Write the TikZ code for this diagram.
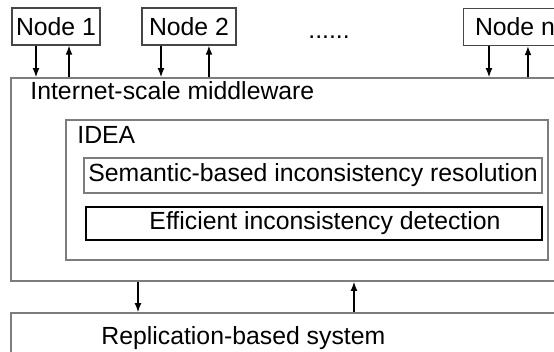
\documentclass[tikz,border=0pt]{standalone}
\usepackage{fontspec}
\setmainfont{Liberation Sans}
\usetikzlibrary{arrows.meta}
\definecolor{boxgray}{RGB}{125,125,125}
\definecolor{hostgray}{RGB}{70,70,70}
\tikzset{
  hostbox/.style={draw=hostgray, line width=0.6pt, minimum height=18.5pt, inner sep=0pt},
  layerbox/.style={draw=boxgray, line width=0.8pt, inner sep=0pt},
  flow/.style={-{Latex[length=4.5pt,width=3.4pt]}, line width=0.7pt},
  caption/.style={inner sep=0pt, anchor=base west},
}

\begin{document}
\begin{tikzpicture}[x=0.5pt, y=-0.5pt, font=\fontsize{12.4}{14}\selectfont]
  \useasboundingbox (0,0) rectangle (554,352);
  \clip (0,0) rectangle (554,352);
  % hosts
  \node[hostbox, minimum width=44pt] (n1) at (56,26.5) {Node 1};
  \node[hostbox, minimum width=47pt] (n2) at (189,26.5) {Node 2};
  \node[hostbox, minimum width=51.5pt] (nn) at (515,27) {Node n};
  \node[caption] (dots) at (308,39) {......};
  % layers
  \node[layerbox, minimum width=282pt, minimum height=101.5pt] (mw) at (293,179.5) {};
  \node[caption] (mwlabel) at (30,100) {Internet-scale middleware};
  \node[layerbox, minimum width=241pt, minimum height=70pt] (idea) at (307,190) {};
  \node[caption] (idealabel) at (77,144) {IDEA};
  \node[layerbox, minimum width=229pt, minimum height=17.5pt] (sem) at (313,175.5) {Semantic-based inconsistency resolution};
  \node[layerbox, draw=black, line width=0.55pt, minimum width=228pt, minimum height=16.5pt] (eff) at (314,223.5) {\hspace*{11pt}Efficient inconsistency detection};
  \node[layerbox, minimum width=282pt, minimum height=43.5pt] (rep) at (293,356.5) {};
  \node[caption] (replabel) at (101,345) {Replication-based system};
  % arrows
  \path ([xshift=-10pt]n1.south) coordinate (d1)
        ([xshift=6.5pt]n1.south) coordinate (u1)
        ([xshift=-14pt]n2.south) coordinate (d2)
        ([xshift=10pt]n2.south) coordinate (u2)
        ([xshift=-13pt]nn.south) coordinate (dn)
        ([xshift=6.5pt]nn.south) coordinate (un)
        ([xshift=-77.5pt]mw.south) coordinate (dm)
        ([xshift=30.5pt]mw.south) coordinate (um);
  \draw[flow] (d1) -- (d1 |- mw.north);
  \draw[flow] (u1 |- mw.north) -- (u1);
  \draw[flow] (d2) -- (d2 |- mw.north);
  \draw[flow] (u2 |- mw.north) -- (u2);
  \draw[flow] (dn) -- (dn |- mw.north);
  \draw[flow] (un |- mw.north) -- (un);
  \draw[flow] (dm) -- (dm |- rep.north);
  \draw[flow] (um |- rep.north) -- (um);
\end{tikzpicture}
\end{document}
